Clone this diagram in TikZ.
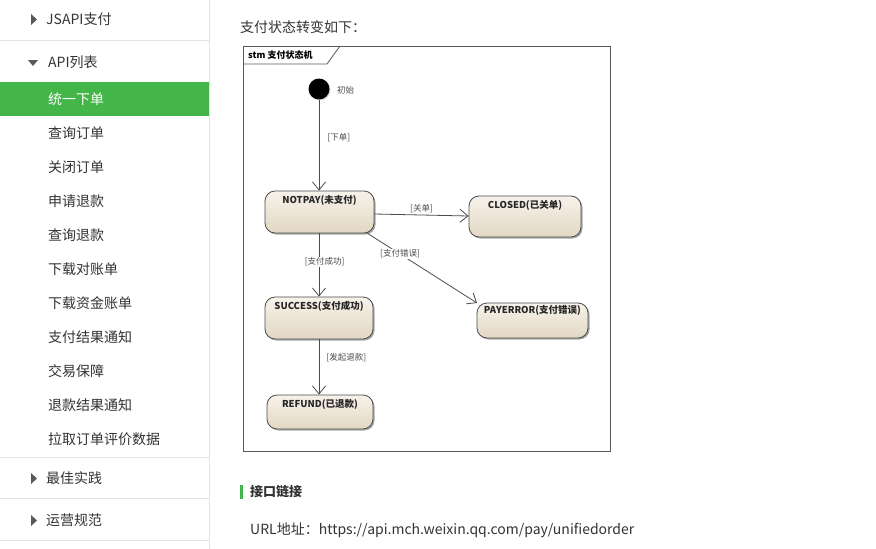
\documentclass[tikz,border=0pt]{standalone}
\usepackage{fontspec}
\setmainfont{Noto Sans CJK SC}
\newfontfamily\cjk{Noto Sans CJK SC}
\usetikzlibrary{arrows.meta,shadows}
\definecolor{wxgreen}{HTML}{44B549}
\definecolor{sidetext}{HTML}{333333}
\definecolor{lineg}{HTML}{E2E2E2}
\definecolor{boxtop}{HTML}{F7F2EA}
\definecolor{boxbot}{HTML}{E2D7C3}
\tikzset{
  menu/.style={anchor=west,inner sep=0pt,text=sidetext,font=\fontsize{14}{16}\selectfont},
  tri/.style={fill=black!65,draw=none},
  sep/.style={draw=lineg,line width=1pt},
  state/.style={draw=black!70,line width=0.8pt,rounded corners=10pt,top color=boxtop,bottom color=boxbot,
     drop shadow={shadow xshift=1.5pt,shadow yshift=-1.5pt,opacity=0.35,fill=black},inner sep=0pt},
  stxt/.style={anchor=north,inner sep=0pt,font=\bfseries\fontsize{9.5}{11}\selectfont,text=black!85},
  elab/.style={inner sep=0pt,font=\fontsize{8.5}{10}\selectfont,text=black!70},
  trans/.style={draw=black!70,line width=0.8pt,-{Straight Barb[length=8pt,width=13pt,line width=0.8pt]}},
}
\begin{document}
\begin{tikzpicture}[x=1pt,y=-1pt]
\useasboundingbox (0,0) rectangle (876,549);
\fill[white] (0,0) rectangle (876,549);
% sidebar
\draw[sep] (209,0) -- (209,549);
\draw[sep] (0,40) -- (209,40);
\draw[sep] (0,457) -- (209,457);
\draw[sep] (0,498) -- (209,498);
\draw[sep] (0,540) -- (209,540);
\fill[wxgreen] (0,82) rectangle (209,116);
\fill[tri] (31,14) -- (31,25) -- (37,19.5) -- cycle;
\node[menu] (m0) at (46,19) {JSAPI支付};
\fill[tri] (28,60) -- (38,60) -- (33,66) -- cycle;
\node[menu] (m1) at (48,62) {API列表};
\node[menu,text=white] (m2) at (48,99) {统一下单};
\node[menu] (m3) at (48,133) {查询订单};
\node[menu] (m4) at (48,167) {关闭订单};
\node[menu] (m5) at (48,201) {申请退款};
\node[menu] (m6) at (48,235) {查询退款};
\node[menu] (m7) at (48,269) {下载对账单};
\node[menu] (m8) at (48,303) {下载资金账单};
\node[menu] (m9) at (48,337) {支付结果通知};
\node[menu] (m10) at (48,371) {交易保障};
\node[menu] (m11) at (48,405) {退款结果通知};
\node[menu] (m12) at (48,439) {拉取订单评价数据};
\fill[tri] (31,473) -- (31,484) -- (37,478.5) -- cycle;
\node[menu] (m13) at (46,478) {最佳实践};
\fill[tri] (31,515) -- (31,526) -- (37,520.5) -- cycle;
\node[menu] (m14) at (46,520) {运营规范};
% content
\node[menu] (title) at (240,27) {支付状态转变如下：};
\draw[black!65,line width=0.9pt] (243,46) rectangle (610,451);
\draw[black!65,line width=0.8pt] (243,64) -- (327,64) -- (340,46);
\node[anchor=west,inner sep=0pt,font=\bfseries\fontsize{9}{10}\selectfont] (tab) at (248,55.5) {stm 支付状态机};
% states
\node[circle,fill=black,minimum size=21pt,inner sep=0pt,drop shadow={shadow xshift=1pt,shadow yshift=-1pt,opacity=0.3}] (init) at (319,89) {};
\node[elab,anchor=west] (initl) at (337,90) {初始};
\node[state,minimum width=109pt,minimum height=42pt] (notpay) at (319.5,212) {};
\node[stxt] (notpayt) at ([yshift=-5pt]notpay.north) {NOTPAY(未支付)};
\node[state,minimum width=112pt,minimum height=41pt] (closed) at (525,216.5) {};
\node[stxt] (closedt) at ([yshift=-5pt]closed.north) {CLOSED(已关单)};
\node[state,minimum width=108pt,minimum height=42pt] (success) at (319,318) {};
\node[stxt] (successt) at ([yshift=-4pt]success.north) {SUCCESS(支付成功)};
\node[state,minimum width=111pt,minimum height=35pt] (payerror) at (532.5,320.5) {};
\node[stxt] (payerrort) at ([yshift=-3pt]payerror.north) {PAYERROR(支付错误)};
\node[state,minimum width=106pt,minimum height=34pt] (refund) at (320,412) {};
\node[stxt] (refundt) at ([yshift=-5pt]refund.north) {REFUND(已退款)};
% transitions
\draw[trans] (init) -- (init |- notpay.north) node[elab,pos=0.42,right=8pt] (l1) {[下单]};
\draw[trans] (notpay.east |- 0,214) -- (closed.west |- 0,216) node[elab,pos=0.5,above=2pt] (l2) {[关单]};
\draw[trans] (notpay.south -| 319,0) -- (success.north -| 319,0) node[elab,pos=0.45,left=-27pt,fill=white,inner sep=1pt] (l3) {[支付成功]};
\draw[trans] (367,233) -- (477,303) node[elab,pos=0.3,fill=white,inner sep=1pt] (l4) {[支付错误]};
\draw[trans] (success.south -| 319,0) -- (refund.north -| 319,0) node[elab,pos=0.33,right=7pt] (l5) {[发起退款]};
% interface link
\fill[wxgreen] (240,485) rectangle (243,499);
\node[anchor=west,inner sep=0pt,font=\bfseries\fontsize{13}{15}\selectfont,text=sidetext] (h2) at (250,492) {接口链接};
\node[menu] (url) at (250,530) {URL地址：https://api.mch.weixin.qq.com/pay/unifiedorder};
\end{tikzpicture}
\end{document}
